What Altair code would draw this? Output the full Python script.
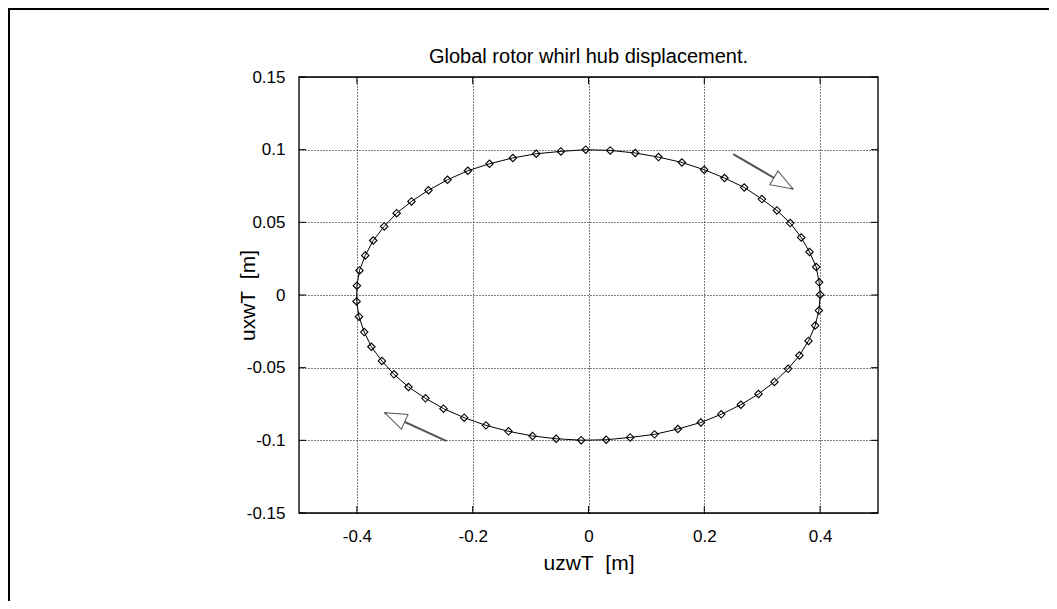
import altair as alt
import pandas as pd

# whirl orbit samples, uzwT and uxwT in metres
uzwT = [0.4002, 0.3984, 0.3933, 0.3817, 0.3674, 0.3484, 0.3254, 0.2995, 0.2689, 0.2349,
        0.1998, 0.1613, 0.1209, 0.0807, 0.0375, -0.0048, -0.0477, -0.0903, -0.1306, -0.1710,
        -0.2083, -0.2435, -0.2763, -0.3057, -0.3313, -0.3528, -0.3718, -0.3856, -0.3955, -0.4000,
        -0.4005, -0.3964, -0.3874, -0.3750, -0.3568, -0.3359, -0.3109, -0.2815, -0.2504, -0.2147,
        -0.1772, -0.1382, -0.0967, -0.0558, -0.0126, 0.0306, 0.0720, 0.1140, 0.1544, 0.1941,
        0.2292, 0.2632, 0.2936, 0.3211, 0.3447, 0.3643, 0.3800, 0.3915, 0.3979]
uxwT = [0.0002, 0.0087, 0.0193, 0.0296, 0.0396, 0.0495, 0.0582, 0.0660, 0.0740, 0.0805,
        0.0862, 0.0912, 0.0949, 0.0977, 0.0995, 0.1000, 0.0988, 0.0972, 0.0943, 0.0903,
        0.0855, 0.0793, 0.0721, 0.0644, 0.0563, 0.0472, 0.0375, 0.0272, 0.0169, 0.0064,
        -0.0044, -0.0149, -0.0255, -0.0356, -0.0454, -0.0546, -0.0633, -0.0711, -0.0782, -0.0844,
        -0.0897, -0.0938, -0.0970, -0.0989, -0.0999, -0.0996, -0.0980, -0.0959, -0.0922, -0.0877,
        -0.0821, -0.0755, -0.0681, -0.0598, -0.0508, -0.0416, -0.0316, -0.0210, -0.0107]

x_ticks = [-0.4, -0.2, 0, 0.2, 0.4]
y_ticks = [-0.15, -0.1, -0.05, 0, 0.05, 0.1, 0.15]

title_text = ["Global rotor whirl hub displacement."]

# direction arrows
arrow_x_from = [0.250, -0.245]
arrow_y_from = [0.097, -0.1005]
arrow_x_to = [0.353, -0.352]
arrow_y_to = [0.073, -0.081]
arrow_angle = [120.3, 294.5]

W, H = 579, 436
PL, PT = 291, 69
TOTAL_W, TOTAL_H = 1041, 593
FONT = "Liberation Sans"
TITLE_FS = 20
AXTITLE_FS = 21

n = len(uzwT)
pts = pd.DataFrame({"x": uzwT, "y": uxwT, "i": list(range(n))})
loop = pd.concat([pts, pd.DataFrame({"x": [uzwT[0]], "y": [uxwT[0]], "i": [n]})], ignore_index=True)
arrows = pd.DataFrame({"x": arrow_x_from, "y": arrow_y_from, "x2": arrow_x_to,
                       "y2": arrow_y_to, "ang": arrow_angle})
xtk = pd.DataFrame({"v": x_ticks})
ytk = pd.DataFrame({"v": y_ticks})
one = pd.DataFrame({"a": [0]})
ttl = pd.DataFrame({"t": title_text})

xs = alt.Scale(domain=[-0.5, 0.5], nice=False, zero=False)
ys = alt.Scale(domain=[-0.15, 0.15], nice=False, zero=False)

xaxis = alt.Axis(values=x_ticks, title="uzwT\u00a0 [m]", grid=True, gridDash=[1, 2],
                 gridColor="black", gridWidth=1, tickSize=0, domain=False,
                 labelPadding=15, labelFontSize=17, labelFont=FONT, labelColor="black",
                 labelExpr="'' + datum.value", titleFontSize=AXTITLE_FS, titleFont=FONT,
                 titleFontWeight="normal", titleColor="black",
                 titleX=W / 2, titleY=50, titleBaseline="middle", titleAnchor="middle")
yaxis = alt.Axis(values=y_ticks, title="uxwT\u00a0 [m]", grid=True, gridDash=[1, 2],
                 gridColor="black", gridWidth=1, tickSize=0, domain=False,
                 labelPadding=14, labelFontSize=17, labelFont=FONT, labelColor="black",
                 labelExpr="'' + datum.value", titleFontSize=AXTITLE_FS, titleFont=FONT,
                 titleFontWeight="normal", titleColor="black", titleAngle=-90,
                 titleX=-51, titleY=H / 2, titleBaseline="middle", titleAnchor="middle")

line = alt.Chart(loop).mark_line(color="black", strokeWidth=1).encode(
    x=alt.X("x:Q", scale=xs, axis=xaxis),
    y=alt.Y("y:Q", scale=ys, axis=yaxis),
    order="i:Q",
)
points = alt.Chart(pts).mark_point(shape="diamond", filled=False, color="black",
                                   strokeWidth=1.1, size=55, opacity=1).encode(
    x=alt.X("x:Q", scale=xs), y=alt.Y("y:Q", scale=ys))

shaft = alt.Chart(arrows).mark_rule(color="#555555", strokeWidth=2).encode(
    x=alt.X("x:Q", scale=xs), y=alt.Y("y:Q", scale=ys), x2="x2:Q", y2="y2:Q")
head = alt.Chart(arrows).mark_point(shape="M0,0 L0.73,2 L-0.73,2 Z", size=484,
                                    fill="white", stroke="#555555", strokeWidth=1,
                                    filled=True, opacity=1, fillOpacity=1).encode(
    x=alt.X("x2:Q", scale=xs), y=alt.Y("y2:Q", scale=ys),
    angle=alt.Angle("ang:Q", scale=None))

TK = 7
tick_l = alt.Chart(ytk).mark_rule(color="black", strokeWidth=1).encode(
    y=alt.Y("v:Q", scale=ys), x=alt.value(0), x2=alt.value(TK))
tick_r = alt.Chart(ytk).mark_rule(color="black", strokeWidth=1).encode(
    y=alt.Y("v:Q", scale=ys), x=alt.value(W - TK), x2=alt.value(W))
tick_b = alt.Chart(xtk).mark_rule(color="black", strokeWidth=1).encode(
    x=alt.X("v:Q", scale=xs), y=alt.value(H - TK), y2=alt.value(H))
tick_t = alt.Chart(xtk).mark_rule(color="black", strokeWidth=1).encode(
    x=alt.X("v:Q", scale=xs), y=alt.value(0), y2=alt.value(TK))

border = alt.Chart(one).mark_rect(fill=None, stroke="black", strokeWidth=1.3).encode(
    x=alt.value(0), x2=alt.value(W), y=alt.value(0), y2=alt.value(H))

title = alt.Chart(ttl).mark_text(font=FONT, fontSize=TITLE_FS, color="black", align="center",
                                 baseline="alphabetic").encode(
    text="t:N", x=alt.value(W / 2), y=alt.value(-14))

frame_top = alt.Chart(one).mark_rule(color="black", strokeWidth=2).encode(
    x=alt.value(-PL), x2=alt.value(TOTAL_W - PL), y=alt.value(1 - PT))
frame_left = alt.Chart(one).mark_rule(color="black", strokeWidth=2).encode(
    x=alt.value(1 - PL), y=alt.value(-PT), y2=alt.value(TOTAL_H - PT))

chart = alt.layer(line, tick_l, tick_r, tick_b, tick_t, shaft, head, points, border,
                  title, frame_top, frame_left).properties(
    width=W, height=H,
    autosize=alt.AutoSizeParams(type="none"),
    padding={"left": PL, "top": PT, "right": TOTAL_W - PL - W, "bottom": TOTAL_H - PT - H},
).configure_view(stroke=None).configure(font=FONT, background="white")

chart.save("out.html", embed_options={"renderer": "svg", "actions": False})
